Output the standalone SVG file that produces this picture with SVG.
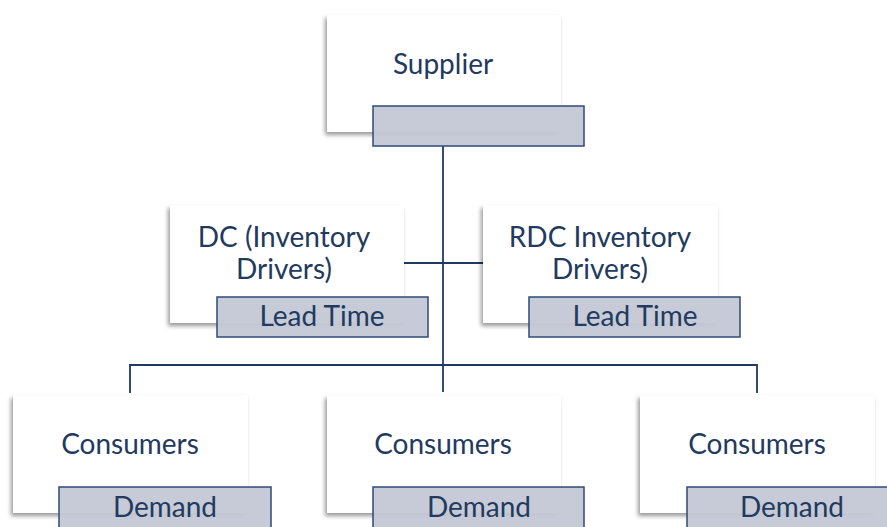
<svg xmlns="http://www.w3.org/2000/svg" width="887" height="527" viewBox="0 0 887 527">
<defs>
<filter id="sh" x="-10%" y="-10%" width="120%" height="130%">
<feDropShadow dx="-2" dy="3" stdDeviation="2" flood-color="#000" flood-opacity="0.4"/>
</filter>
<style>
.card{fill:#fff;filter:url(#sh)}
.bar{fill:#c3c8d5;stroke:#2f4a78;stroke-width:1.5;fill-opacity:0.95}
.t{font-family:Lato,"Open Sans",sans-serif;fill:#233a5e;text-anchor:middle;font-size:28px}
.c{fill:none;stroke:#1f3864;stroke-width:1.8}
</style>
</defs>
<rect width="887" height="527" fill="#fff"/>
<g id="connectors">
<path class="c" d="M443 146V392"/>
<path class="c" d="M403 263H483"/>
<path class="c" d="M130 393V365H757V393"/>
</g>
<g id="supplier">
<rect class="card" x="327" y="15" width="234" height="117"/>
<text class="t" x="443" y="74">Supplier</text>
<rect class="bar" x="373" y="106" width="211" height="40"/>
</g>
<g id="dc">
<rect class="card" x="170" y="205" width="234" height="118"/>
<text class="t" x="284" y="247">DC (Inventory</text>
<text class="t" x="284" y="279">Drivers)</text>
<rect class="bar" x="217" y="297" width="211" height="40"/>
<text class="t" x="322" y="326">Lead Time</text>
</g>
<g id="rdc">
<rect class="card" x="483" y="205" width="235" height="118"/>
<text class="t" x="600" y="247">RDC Inventory</text>
<text class="t" x="600" y="279">Drivers)</text>
<rect class="bar" x="529" y="297" width="211" height="40"/>
<text class="t" x="635" y="326">Lead Time</text>
</g>
<g id="consumers1">
<rect class="card" x="13" y="395" width="235" height="118"/>
<text class="t" x="130" y="454">Consumers</text>
<rect class="bar" x="59" y="487" width="212" height="50"/>
<text class="t" x="165" y="517">Demand</text>
</g>
<g id="consumers2">
<rect class="card" x="327" y="395" width="234" height="118"/>
<text class="t" x="443" y="454">Consumers</text>
<rect class="bar" x="373" y="487" width="211" height="50"/>
<text class="t" x="479" y="517">Demand</text>
</g>
<g id="consumers3">
<rect class="card" x="640" y="395" width="235" height="118"/>
<text class="t" x="757" y="454">Consumers</text>
<rect class="bar" x="687" y="487" width="220" height="50"/>
<text class="t" x="792" y="517">Demand</text>
</g>
</svg>
